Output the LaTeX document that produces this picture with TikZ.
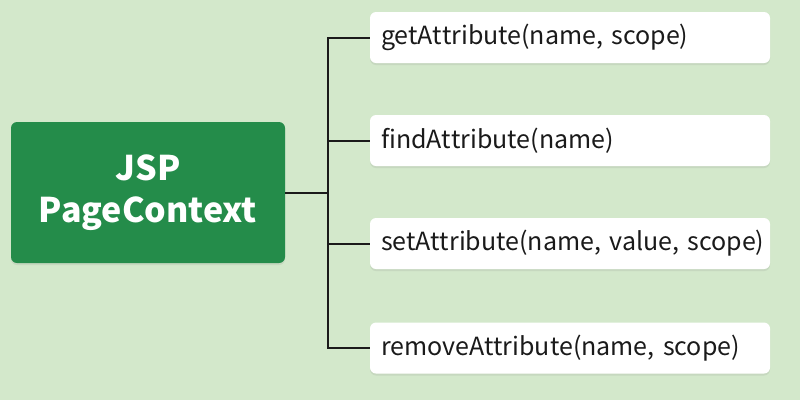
\documentclass[tikz,border=0pt]{standalone}
\usepackage{fontspec}
\setmainfont{Noto Sans CJK SC}[WordSpace=0.75, Ligatures=NoCommon]
\usetikzlibrary{shadows}
\definecolor{bgc}{HTML}{D3E8CB}
\definecolor{maing}{HTML}{248C4A}
\definecolor{txt}{HTML}{1A1A1A}
\newcommand{\Attr}{At\kern0ptt\kern0ptribute}
\begin{document}
\begin{tikzpicture}[x=1pt,y=-1pt,
  mainbox/.style={fill=maing, rounded corners=6pt, minimum width=274pt, minimum height=141pt,
    text=white, font=\fontsize{34}{42}\selectfont\bfseries, align=center,
    drop shadow={shadow xshift=0pt, shadow yshift=-2pt, opacity=0.15}},
  itembox/.style={fill=white, rounded corners=6pt, minimum width=400pt, minimum height=51pt,
    text width=378pt, inner xsep=11pt, align=left, text=txt,
    font=\fontsize{25}{30}\selectfont,
    drop shadow={shadow xshift=0pt, shadow yshift=-2pt, opacity=0.15}},
  link/.style={draw=txt, line width=2pt}]
\fill[bgc] (0,0) rectangle (800,400);
\useasboundingbox (0,0) rectangle (800,400);
\node[mainbox] (main) at (148,192.5) {JSP\\PageContext};
\node[itembox] (b1) at (570,37.5) {\mbox{get\Attr(name, scope)}};
\node[itembox] (b2) at (570,140.5) {\mbox{find\Attr(name)}};
\node[itembox] (b3) at (570,243.5) {\mbox{set\Attr(name, value, scope)}};
\node[itembox] (b4) at (570,348) {\mbox{remove\Attr(name, scope)}};
\coordinate (trunk) at (328,192.5);
\draw[link] (main.east) -- (trunk);
\draw[link] (trunk) |- (b1.west);
\draw[link] (trunk) |- (b2.west);
\draw[link] (trunk) |- (b3.west);
\draw[link] (trunk) |- (b4.west);
\end{tikzpicture}
\end{document}
